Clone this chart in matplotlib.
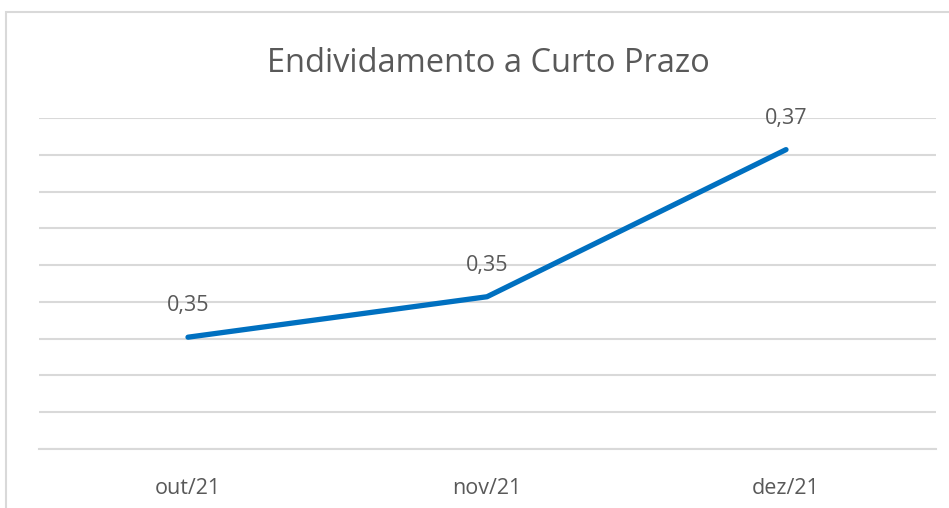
import matplotlib.pyplot as plt
from matplotlib.patches import Rectangle

# dados
meses = ["out/21", "nov/21", "dez/21"]
valores = [0.3452, 0.3507, 0.3707]
rotulos = ["0,35", "0,35", "0,37"]

plt.rcParams['font.family'] = ['Open Sans', 'DejaVu Sans']

fig = plt.figure(figsize=(9.49, 5.08), dpi=100)
W, H = 949, 508

# moldura do gráfico (cortada à direita e em baixo)
fig.patches.append(Rectangle((6 / W, -0.1), 1.2, 1 - 12 / H + 0.1,
                             transform=fig.transFigure, fill=False,
                             edgecolor="#d9d9d9", linewidth=1.5))

ax = fig.add_axes([38.5 / W, 1 - 449 / H, 897 / W, (449 - 118) / H])
x = range(len(meses))
ax.plot(x, valores, color="#0070C0", linewidth=3.8, solid_capstyle="round")

for xi, v, r in zip(x, valores, rotulos):
    ax.annotate(r, (xi, v), xytext=(0, 15), textcoords="offset points",
                ha="center", va="bottom", fontsize=15.5, color="#595959")

ax.set_xlim(-0.5, 2.5)
ax.set_ylim(0.33, 0.375)
ax.set_yticks([0.33 + 0.005 * i for i in range(10)])
ax.set_yticklabels([])
ax.set_xticks(list(x))
ax.set_xticklabels(meses, fontsize=15.5, color="#595959")
ax.tick_params(axis="y", length=0)
ax.tick_params(axis="x", length=0, pad=21)
ax.grid(axis="y", color="#d9d9d9", linewidth=1.5)
ax.set_axisbelow(True)
for s in ["top", "right", "left"]:
    ax.spines[s].set_visible(False)
ax.spines["bottom"].set_color("#d9d9d9")
ax.spines["bottom"].set_linewidth(1.5)

fig.text(488 / W, 1 - 63 / H, "Endividamento a Curto Prazo", ha="center",
         va="center", fontsize=23.5, color="#595959")

fig.savefig("out.png", dpi=100)
